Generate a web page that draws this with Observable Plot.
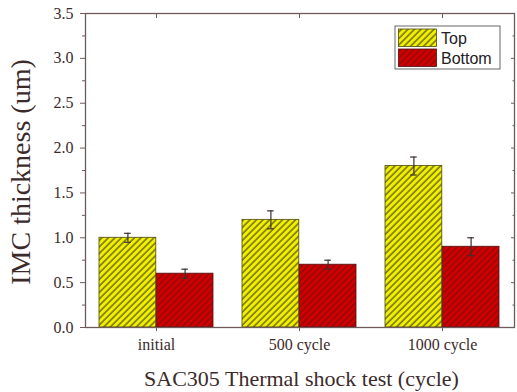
<!DOCTYPE html>
<html>
<head>
<meta charset="utf-8">
<script src="https://cdn.jsdelivr.net/npm/d3@7"></script>
<script src="https://cdn.jsdelivr.net/npm/@observablehq/plot@0.6"></script>
<style>
  html, body { margin: 0; padding: 0; background: #fff; }
  #chart { position: relative; width: 517px; height: 392px; }
</style>
</head>
<body>
<div id="chart"></div>
<script>
const categories = ["initial", "500 cycle", "1000 cycle"];
const series = ["Top", "Bottom"];
const topValues = [1.0, 1.2, 1.8];
const topErrors = [0.05, 0.1, 0.1];
const bottomValues = [0.6, 0.7, 0.9];
const bottomErrors = [0.05, 0.05, 0.1];
const yTicks = [0, 0.5, 1.0, 1.5, 2.0, 2.5, 3.0, 3.5];
const yMinorTicks = [0.25, 0.75, 1.25, 1.75, 2.25, 2.75, 3.25];

const topData = categories.map((c, i) => ({cat: c, series: "Top", value: topValues[i], err: topErrors[i]}));
const bottomData = categories.map((c, i) => ({cat: c, series: "Bottom", value: bottomValues[i], err: bottomErrors[i]}));

const W = 517, H = 392, mL = 85, mR = 3, mT = 13, mB = 65;
const pIn = 0.2, pOut = 0.1;
const step = (W - mL - mR) / (categories.length - pIn + 2 * pOut);
const bw = step * (1 - pIn);
const half = bw / 2;
const q = bw / 4;
const cap = 3.5;
const axisColor = "#6e5a5a";
const textColor = "#3b2b2b";
const serif = "'Liberation Serif', 'Times New Roman', serif";

const errMarks = (data, side) => {
  const dx = side === "L" ? -q : q;
  const capL = side === "L" ? q - cap : 3 * q - cap;
  const capR = bw - capL - 2 * cap;
  return [
    Plot.ruleX(data, {x: "cat", y1: d => d.value - d.err, y2: d => d.value + d.err, dx, stroke: "#3a3030", strokeWidth: 1.2}),
    Plot.tickY(data, {x: "cat", y: d => d.value + d.err, insetLeft: capL, insetRight: capR, stroke: "#3a3030", strokeWidth: 1.2}),
    Plot.tickY(data, {x: "cat", y: d => d.value - d.err, insetLeft: capL, insetRight: capR, stroke: "#3a3030", strokeWidth: 1.2})
  ];
};

const plot = Plot.plot({
  width: W, height: H,
  marginLeft: mL, marginRight: mR, marginTop: mT, marginBottom: mB,
  style: {fontFamily: serif, color: textColor, background: "#fff"},
  x: {domain: categories, paddingInner: pIn, paddingOuter: pOut, label: null},
  y: {domain: [0, 3.5], label: null},
  marks: [
    Plot.barY(topData, {x: "cat", y: "value", insetRight: half, fill: "url(#hatchTop)", stroke: "#4a4a10", strokeWidth: 0.8}),
    Plot.barY(bottomData, {x: "cat", y: "value", insetLeft: half, fill: "url(#hatchBottom)", stroke: "#4a1010", strokeWidth: 0.8}),
    ...errMarks(topData, "L"),
    ...errMarks(bottomData, "R"),
    Plot.frame({stroke: axisColor, strokeWidth: 1.3}),
    Plot.axisY(yTicks, {anchor: "left", tickSize: 5, tickPadding: 7, tickFormat: d3.format(".1f"), fontSize: 16, fontFamily: serif, stroke: axisColor, fill: textColor, label: null}),
    Plot.axisY(yMinorTicks, {anchor: "left", tickSize: 3, text: null, stroke: axisColor, label: null}),
    Plot.axisY(yTicks, {anchor: "right", tickSize: -4, text: null, stroke: axisColor, label: null}),
    Plot.axisY(yMinorTicks, {anchor: "right", tickSize: -2.5, text: null, stroke: axisColor, label: null}),
    Plot.axisX({anchor: "bottom", tickSize: 4, tickPadding: 7, fontSize: 16, fontFamily: serif, stroke: axisColor, fill: textColor, label: null}),
    Plot.axisX({anchor: "top", tickSize: -4, text: null, stroke: axisColor, label: null})
  ]
});

// Hatch patterns
const svg = d3.select(plot);
svg.selectAll("text").attr("font-family", serif).style("font-family", serif).style("font-variant", "normal");
const defs = svg.insert("defs", ":first-child");
function hatch(id, bg, line, lw) {
  const p = defs.append("pattern").attr("id", id).attr("patternUnits", "userSpaceOnUse")
    .attr("width", 4.6).attr("height", 10).attr("patternTransform", "rotate(45)");
  p.append("rect").attr("width", 4.6).attr("height", 10).attr("fill", bg);
  p.append("line").attr("x1", 1).attr("x2", 1).attr("y1", 0).attr("y2", 10).attr("stroke", line).attr("stroke-width", lw);
}
hatch("hatchTop", "#f2f000", "#5a5a14", 1.3);
hatch("hatchBottom", "#d00000", "#8a0a0a", 1.3);

// Axis titles
svg.append("text").attr("transform", `translate(20,172) rotate(-90)`)
  .attr("text-anchor", "middle").attr("dominant-baseline", "central")
  .attr("font-family", serif).attr("font-size", 28).attr("fill", textColor)
  .text("IMC thickness (um)");
svg.append("text").attr("x", (mL + W - mR) / 2 + 2).attr("y", 378)
  .attr("text-anchor", "middle").attr("dominant-baseline", "central")
  .attr("font-family", serif).attr("font-size", 22).attr("fill", textColor)
  .text("SAC305 Thermal shock test (cycle)");

// Legend
const lg = svg.append("g").attr("font-family", "'Liberation Sans', Arial, sans-serif").attr("font-size", 16).attr("fill", "#222").attr("text-anchor", "start");
lg.append("rect").attr("x", 395).attr("y", 26).attr("width", 105).attr("height", 43)
  .attr("fill", "#fff").attr("stroke", "#666").attr("stroke-width", 1);
const sw = [["Top", "url(#hatchTop)", "#4a4a10"], ["Bottom", "url(#hatchBottom)", "#4a1010"]];
sw.forEach(([name, fill, stroke], i) => {
  lg.append("rect").attr("x", 398.5).attr("y", 29 + i * 20).attr("width", 38).attr("height", 17.5)
    .attr("fill", fill).attr("stroke", stroke).attr("stroke-width", 0.8);
  lg.append("text").attr("x", 441).attr("y", 38 + i * 20).attr("dominant-baseline", "central").attr("text-anchor", "start").text(name);
});

document.getElementById("chart").appendChild(plot);
</script>
</body>
</html>
